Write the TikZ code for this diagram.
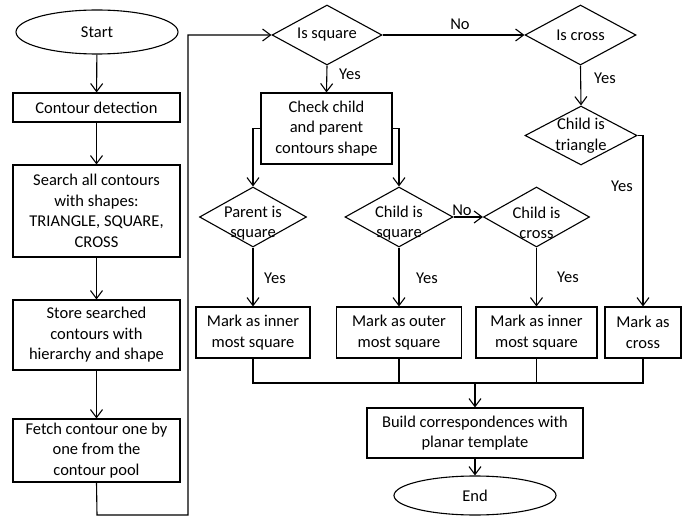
\documentclass[tikz,border=0pt]{standalone}
\usepackage{fontspec}
\setmainfont{Carlito}
\usetikzlibrary{shapes.geometric,arrows.meta}
\begin{document}
\begin{tikzpicture}[x=1pt,y=-1pt,
  every node/.style={font=\fontsize{16.5}{20.5}\selectfont},
  line/.style={line width=1.1pt},
  arr/.style={line width=1.1pt,-{Straight Barb[length=8pt,width=12pt]}},
  proc/.style={draw,line width=1.1pt,rectangle,align=center,inner sep=0pt},
  term/.style={draw,line width=1.1pt,ellipse,inner sep=0pt},
  dec/.style={draw,line width=1.1pt,diamond,inner sep=0pt},
  lbl/.style={inner sep=0pt},
  low/.style={inner sep=0pt,align=center,yshift=-6pt}]
\useasboundingbox (0,0) rectangle (691,516);

% left column
\node[term,minimum width=162,minimum height=44] (start) at (97,32) {Start};
\node[proc,minimum width=167,minimum height=29] (det) at (96.5,107.5) {Contour detection};
\node[proc,minimum width=167,minimum height=92] (srch) at (96.5,211) {Search all contours\\with shapes:\\TRIANGLE, SQUARE,\\CROSS};
\node[proc,minimum width=167,minimum height=70] (store) at (96.5,335) {Store searched\\contours with\\hierarchy and shape};
\node[proc,minimum width=167,minimum height=63] (fetch) at (96.5,450.5) {Fetch contour one by\\one from the\\contour pool};

% decisions
\node[dec,minimum width=110,minimum height=60,label={[lbl]center:Is square}] (sq) at (327,35) {};
\node[dec,minimum width=111,minimum height=60,label={[lbl]center:Is cross}] (cross) at (580.5,35) {};
\node[proc,minimum width=131,minimum height=71] (check) at (326.5,128.5) {Check child\\and parent\\contours shape};
\node[dec,minimum width=112,minimum height=59,label={[lbl,align=center]center:Child is\\triangle}] (tri) at (581,135.5) {};
\node[dec,minimum width=107,minimum height=60,label={[low]center:Parent is\\square}] (par) at (253,217) {};
\node[dec,minimum width=108,minimum height=60,label={[low]center:Child is\\square}] (csq) at (399,217) {};
\node[dec,minimum width=106,minimum height=60,label={[low]center:Child is\\cross}] (ccr) at (536.5,217) {};

% actions
\node[proc,minimum width=114,minimum height=51] (m1) at (253,332.5) {Mark as inner\\most square};
\node[proc,minimum width=125,minimum height=51] (m2) at (399,332.5) {Mark as outer\\most square};
\node[proc,minimum width=121,minimum height=51] (m3) at (536.5,332.5) {Mark as inner\\most square};
\node[proc,minimum width=76,minimum height=51] (m4) at (643,332.5) {Mark as\\cross};
\node[proc,minimum width=216,minimum height=50] (build) at (475,433) {Build correspondences with\\planar template};
\node[term,minimum width=162,minimum height=39] (end) at (475,495.5) {End};

% helper points
\coordinate (lb) at (97,515);
\coordinate (rb) at (188,515);
\coordinate (rt) at (188,35);
\coordinate (jn) at (475,383);
\coordinate (cl) at (253,128.5);
\coordinate (cr) at (399,128.5);
\coordinate (tr) at (643,135.5);

% connectors
\draw[arr] (start) -- (det);
\draw[arr] (det) -- (srch);
\draw[arr] (srch) -- (store);
\draw[arr] (store) -- (fetch);
\draw[arr] (fetch.south) -- (lb) -- (rb) -- (rt) -- (sq.west);
\draw[arr] (sq.east) -- (cross.west);
\draw[arr] (sq.south) -- (check.north);
\draw[arr] (cross.south) -- (tri.north);
\draw[arr] (check.west) -- (cl) -- (par.north);
\draw[arr] (check.east) -- (cr) -- (csq.north);
\draw[arr] (csq.east) -- (ccr.west);
\draw[arr] (par.south) -- (m1.north);
\draw[arr] (csq.south) -- (m2.north);
\draw[arr] (ccr.south) -- (m3.north);
\draw[arr] (tri.east) -- (tr) -- (m4.north);
\draw[line] (m1.south) |- (m4.south |- jn) -- (m4.south);
\draw[line] (m2.south) -- (m2.south |- jn);
\draw[line] (m3.south) -- (m3.south |- jn);
\draw[arr] (jn) -- (build.north);
\draw[arr] (build.south) -- (end.north);

% branch labels
\node[lbl] (y1) at (350,74) {Yes};
\node[lbl] (n1) at (460,24) {No};
\node[lbl] (y2) at (605,78) {Yes};
\node[lbl] (y3) at (622,186) {Yes};
\node[lbl] (y4) at (275,278) {Yes};
\node[lbl] (y5) at (427,278) {Yes};
\node[lbl] (y6) at (568,277) {Yes};
\node[lbl] (n2) at (462,210) {No};
\end{tikzpicture}
\end{document}
